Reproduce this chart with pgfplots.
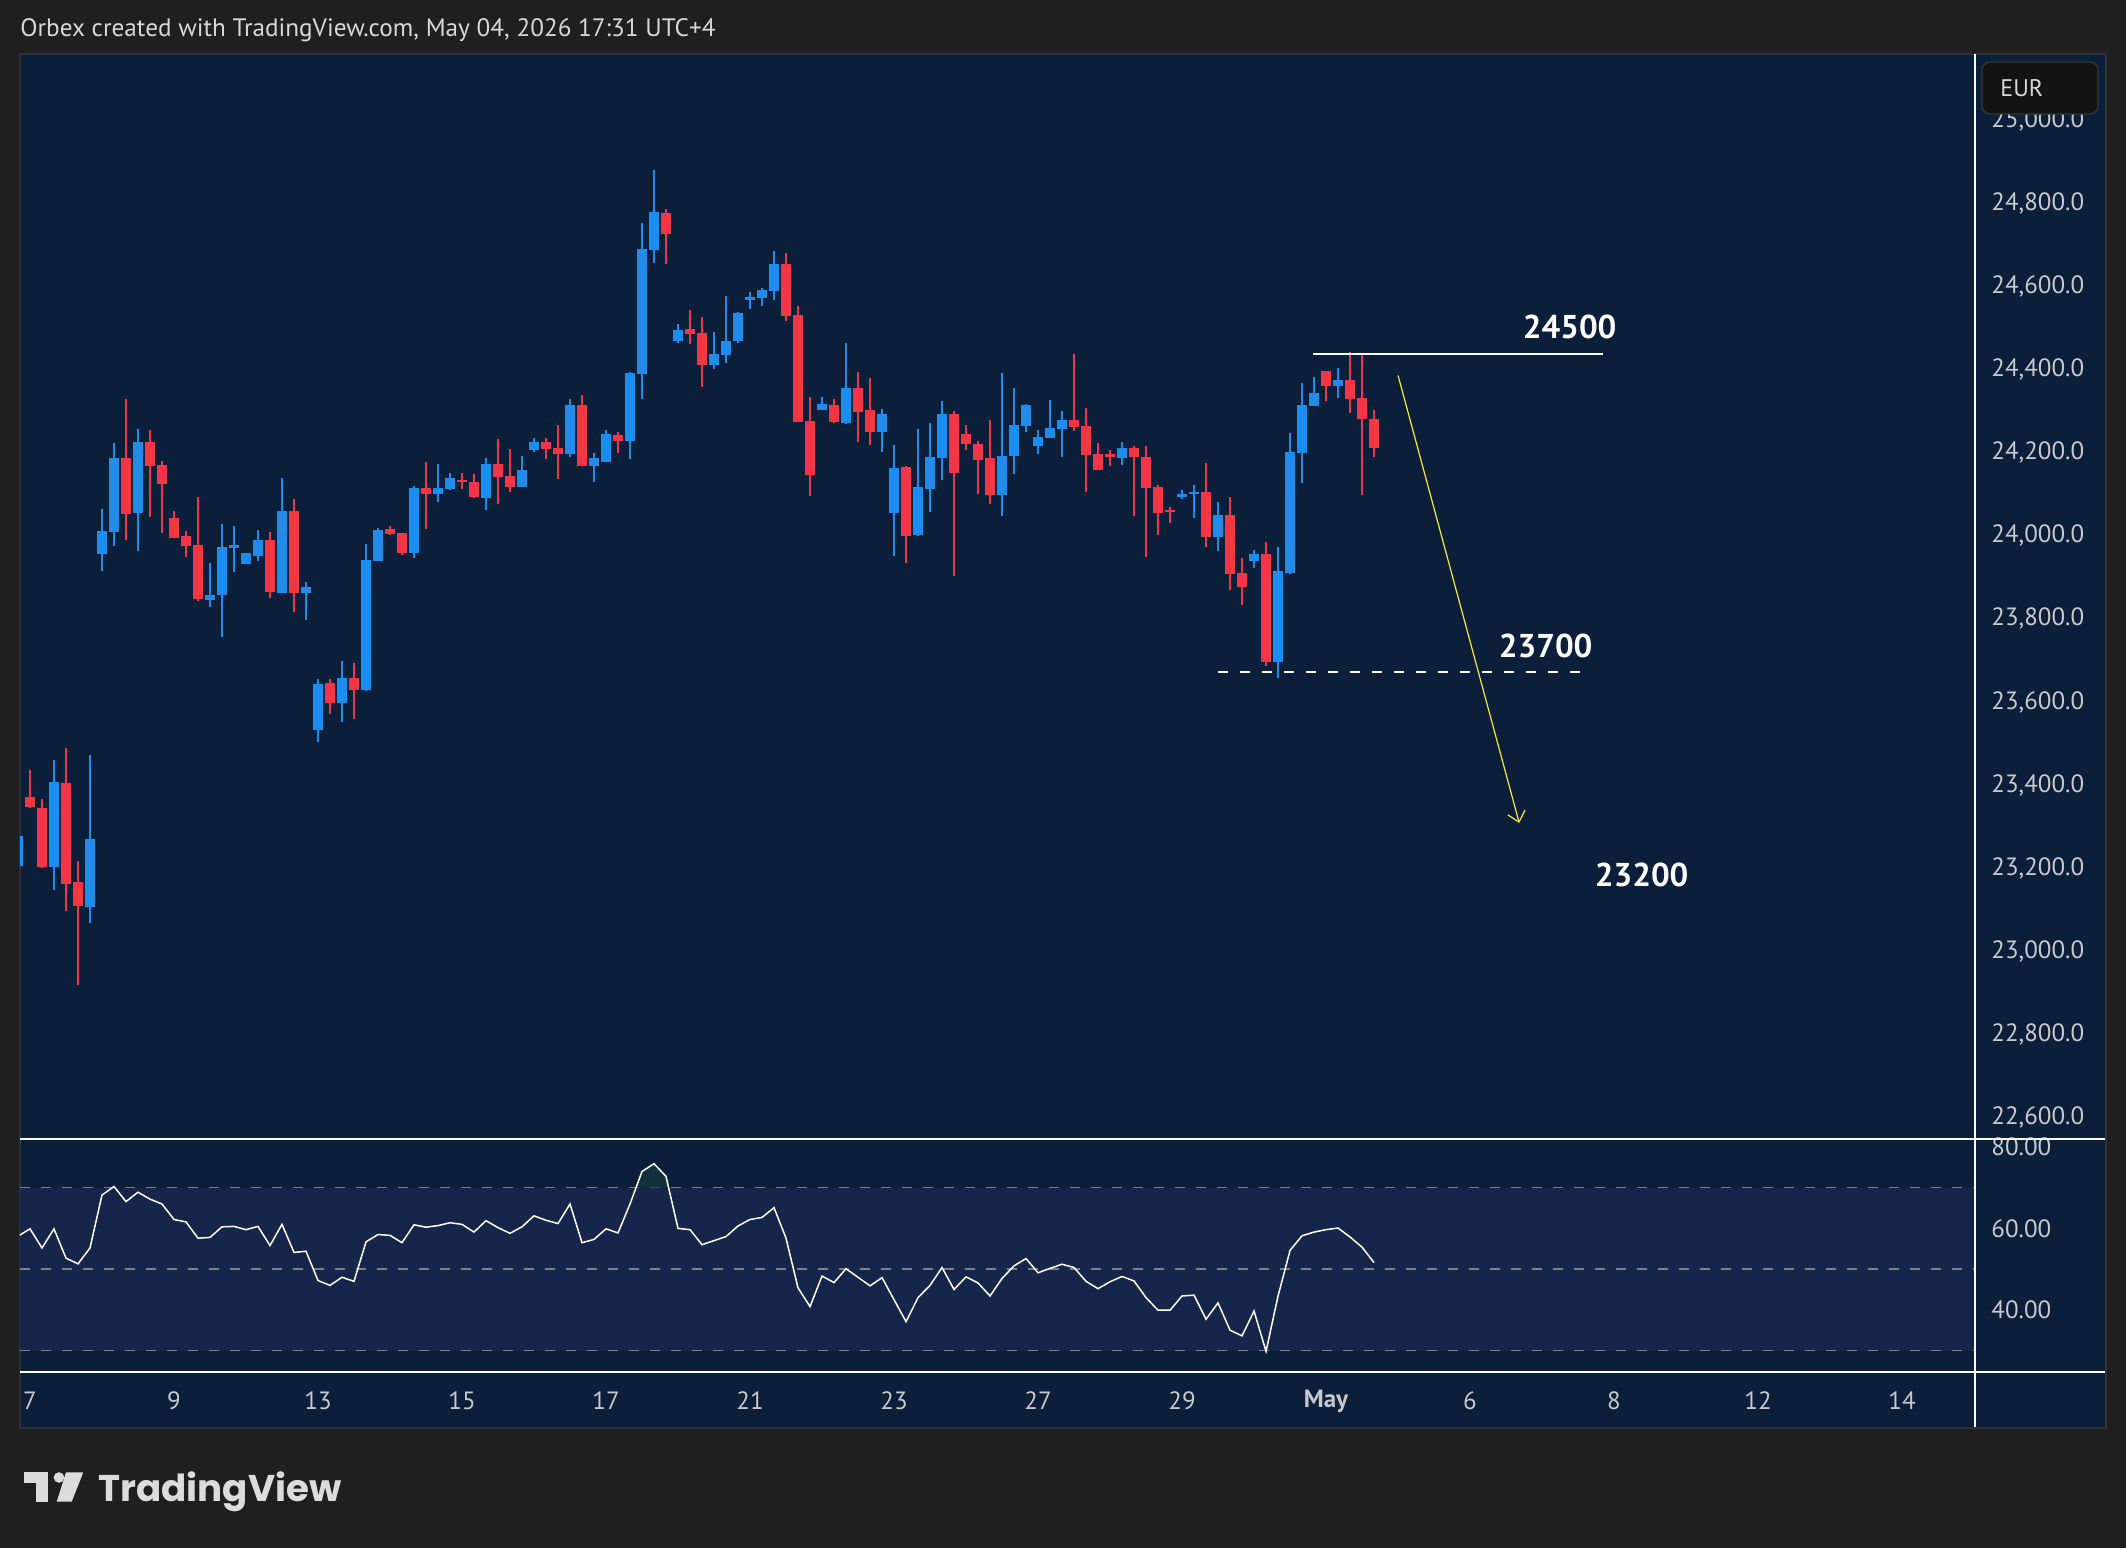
\documentclass[border=0pt]{standalone}
\usepackage{pgfplots}
\pgfplotsset{compat=1.18}
\usepackage{pgfplotstable}
\usepackage{fontspec}
\setmainfont{PT Sans}
\newfontfamily\tvfont{Poppins}
\usetikzlibrary{arrows.meta}

\definecolor{outerbg}{RGB}{31,31,31}
\definecolor{panel}{RGB}{11,30,58}
\definecolor{panelbd}{RGB}{48,50,56}
\definecolor{band}{RGB}{22,38,75}
\definecolor{cup}{RGB}{30,140,236}
\definecolor{cdn}{RGB}{242,54,69}
\definecolor{lbl}{RGB}{200,201,204}
\definecolor{titlec}{RGB}{215,215,215}
\definecolor{dashc}{RGB}{125,128,138}
\definecolor{arrowy}{RGB}{250,232,60}
\definecolor{logoc}{RGB}{220,220,220}
\definecolor{eurbg}{RGB}{19,19,19}
\definecolor{eurbd}{RGB}{54,54,54}
\definecolor{obfill}{RGB}{18,48,60}

% up candles (close > open): index, open, high, low, close
\pgfplotstableread{
i o h l c
-1 23206 23285 23200 23278
2 23202 23460 23147 23407
5 23106 23473 23068 23270
6 23956 24065 23915 24012
7 24010 24224 23975 24188
9 24055 24257 23964 24226
15 23846 23934 23829 23857
16 23857 24029 23756 23973
17 23970 24024 23912 23978
18 23932 23958 23932 23958
19 23951 24014 23939 23990
21 23862 24139 23862 24060
23 23863 23889 23797 23877
24 23533 23655 23504 23643
26 23598 23699 23552 23658
28 23629 23980 23626 23942
29 23939 24019 23939 24014
32 23959 24120 23947 24115
34 24101 24173 24081 24115
35 24113 24151 24110 24139
38 24091 24187 24062 24173
41 24118 24192 24118 24158
42 24207 24235 24202 24226
45 24197 24329 24190 24315
47 24168 24199 24130 24187
48 24178 24255 24178 24245
50 24228 24394 24185 24392
51 24389 24753 24329 24690
52 24688 24880 24657 24779
54 24469 24510 24464 24495
57 24411 24491 24402 24438
58 24435 24577 24416 24469
59 24469 24539 24464 24536
60 24568 24587 24546 24575
61 24572 24596 24553 24592
62 24589 24685 24568 24654
66 24303 24334 24303 24317
68 24272 24464 24269 24356
71 24250 24305 24202 24293
72 24055 24219 23951 24163
74 24002 24257 24000 24118
75 24113 24272 24057 24190
76 24187 24324 24134 24293
81 24098 24392 24048 24192
82 24192 24356 24149 24267
83 24264 24317 24250 24315
84 24216 24255 24197 24238
85 24235 24327 24235 24260
86 24257 24300 24190 24279
91 24187 24226 24170 24211
96 24093 24110 24089 24101
97 24101 24122 24043 24105
99 23997 24081 23964 24050
102 23939 23966 23923 23956
104 23696 23973 23658 23915
105 23911 24247 23908 24202
106 24199 24368 24127 24315
107 24312 24382 24312 24344
109 24361 24404 24332 24375
}\upc

% down candles (close < open)
\pgfplotstableread{
i o h l c
0 23371 23437 23345 23347
1 23345 23366 23200 23203
3 23405 23489 23097 23162
4 23166 23218 22919 23109
8 24187 24329 23990 24052
10 24226 24255 24046 24169
11 24170 24180 24007 24125
12 24043 24060 23994 23994
13 23999 24011 23949 23975
14 23978 24093 23843 23847
20 23990 24009 23851 23865
22 24060 24089 23816 23862
25 23646 23655 23571 23598
27 23658 23694 23559 23629
30 24016 24024 24002 24004
31 24007 24007 23954 23959
33 24115 24178 24016 24101
36 24134 24151 24113 24131
37 24130 24149 24091 24093
39 24173 24233 24077 24142
40 24144 24209 24106 24118
43 24226 24235 24185 24209
44 24211 24267 24137 24197
46 24315 24339 24168 24168
49 24243 24250 24199 24228
53 24777 24787 24654 24726
55 24498 24543 24462 24486
56 24488 24527 24358 24411
63 24654 24681 24517 24529
64 24531 24553 24274 24274
65 24276 24334 24096 24146
67 24315 24329 24272 24274
69 24356 24394 24226 24298
70 24303 24380 24219 24250
73 24166 24168 23935 24000
77 24293 24300 23903 24151
78 24245 24267 24207 24221
79 24221 24228 24101 24182
80 24187 24279 24077 24098
87 24279 24438 24252 24262
88 24264 24308 24106 24195
89 24197 24223 24158 24158
90 24196 24207 24168 24191
92 24211 24216 24048 24190
93 24190 24216 23949 24115
94 24118 24122 24002 24055
95 24062 24069 24031 24057
98 24105 24175 23973 23997
100 24050 24093 23870 23908
101 23911 23947 23834 23877
103 23956 23985 23687 23696
108 24397 24397 24325 24361
110 24375 24442 24296 24329
111 24332 24438 24098 24281
112 24281 24303 24190 24211
}\dnc

% RSI
\pgfplotstableread{
i v
-1 58.1
0 59.9
1 55.2
2 59.9
3 52.7
4 51.3
5 55.2
6 68.2
7 70.3
8 66.6
9 68.9
10 67.2
11 66.0
12 62.2
13 61.6
14 57.6
15 57.8
16 60.4
17 60.5
18 59.7
19 60.5
20 55.8
21 61.0
22 54.1
23 54.4
24 47.2
25 46.0
26 48.0
27 47.0
28 56.7
29 58.5
30 58.3
31 56.5
32 60.9
33 60.3
34 60.7
35 61.4
36 61.0
37 59.1
38 61.9
39 60.2
40 58.8
41 60.4
42 63.1
43 62.0
44 61.2
45 66.0
46 56.5
47 57.3
48 59.9
49 58.9
50 66.0
51 74.0
52 75.9
53 72.8
54 60.0
55 59.7
56 56.0
57 57.0
58 58.0
59 60.6
60 62.2
61 62.7
62 65.1
63 57.6
64 45.4
65 40.8
66 48.3
67 46.7
68 50.1
69 48.0
70 45.9
71 47.9
72 42.5
73 37.1
74 43.0
75 46.0
76 50.4
77 45.0
78 48.1
79 46.6
80 43.4
81 47.7
82 50.8
83 52.6
84 49.1
85 50.2
86 51.2
87 50.4
88 47.0
89 45.2
90 46.9
91 48.2
92 47.1
93 43.0
94 39.9
95 39.9
96 43.4
97 43.6
98 37.7
99 41.7
100 35.0
101 33.6
102 39.7
103 29.8
104 43.4
105 54.6
106 58.2
107 59.1
108 59.7
109 60.1
110 57.9
111 55.4
112 51.6
}\rsi

\pgfplotsset{
  wick/.style={draw=none, mark=none, forget plot,
    error bars/.cd, y dir=both, y explicit, error mark=none,
    error bar style={draw=#1, line width=1pt}},
  body/.style={draw=none, mark=none, forget plot,
    error bars/.cd, y dir=both, y explicit, error mark=none,
    error bar style={draw=#1, line width=5pt}},
}

\begin{document}
\begin{tikzpicture}
\useasboundingbox (0,0) rectangle (1063pt,-774pt);
\begin{scope}[x=0.5pt,y=-0.5pt]
  \fill[outerbg] (0,0) rectangle (2126,1548);
  \fill[panel] (20,54) rectangle (2105,1427);
  \draw[panelbd, line width=1pt] (19.5,53.5) rectangle (2105.5,1427.5);
  \node[anchor=west, inner sep=0pt, text=titlec, font=\fontsize{12.6}{14}\selectfont]
    at (20,30) {Orbex created with TradingView.com, May 04, 2026 17:31 UTC+4};
  % TradingView logo
  \fill[logoc] (24,1472.3) rectangle (48.3,1482.7);
  \fill[logoc] (36,1482.7) rectangle (48.3,1501.7);
  \fill[logoc] (59,1477.5) circle (5.3);
  \fill[logoc] (66,1472.3) -- (83.3,1472.3) -- (71.7,1501.7) -- (56.7,1501.7) -- cycle;
  \node[anchor=base west, inner sep=0pt, text=logoc, font=\tvfont\bfseries\fontsize{18.6}{22}\selectfont]
    at (98,1501.7) {TradingView};
\end{scope}

% ---------- main price pane ----------
\begin{axis}[
  at={(10pt,-569.5pt)}, anchor=south west,
  scale only axis, width=977.5pt, height=542.5pt,
  xmin=-0.833, xmax=162.08, ymin=22548.3, ymax=25159.6,
  axis line style={draw=none}, tick style={draw=none},
  scaled y ticks=false,
  xtick=\empty,
  ytick={22600,22800,23000,23200,23400,23600,23800,24000,24200,24400,24600,24800,25000},
  yticklabels={{22,600.0},{22,800.0},{23,000.0},{23,200.0},{23,400.0},{23,600.0},{23,800.0},{24,000.0},{24,200.0},{24,400.0},{24,600.0},{24,800.0},{25,000.0}},
  yticklabel pos=right,
  yticklabel style={anchor=west, inner sep=0pt, xshift=8pt, text=lbl, font=\fontsize{12.5}{14}\selectfont},
]
\addplot[wick=cup] table[x=i, y expr={(\thisrow{h}+\thisrow{l})/2}, y error expr={(\thisrow{h}-\thisrow{l})/2}] {\upc};
\addplot[body=cup] table[x=i, y expr={(\thisrow{o}+\thisrow{c})/2}, y error expr={abs(\thisrow{c}-\thisrow{o})/2}] {\upc};
\addplot[wick=cdn] table[x=i, y expr={(\thisrow{h}+\thisrow{l})/2}, y error expr={(\thisrow{h}-\thisrow{l})/2}] {\dnc};
\addplot[body=cdn] table[x=i, y expr={(\thisrow{o}+\thisrow{c})/2}, y error expr={abs(\thisrow{c}-\thisrow{o})/2}] {\dnc};

\addplot[white, line width=0.85pt] coordinates {(106.9,24438) (131.1,24438)};
\addplot[white, line width=0.85pt, dash pattern=on 5pt off 6pt] coordinates {(99,23673) (129.2,23673)};
\addplot[arrowy, line width=0.6pt, -{Straight Barb[length=5pt,width=9pt]}] coordinates {(114,24386) (124.1,23309)};

\node[text=white, font=\bfseries\fontsize{16.5}{18}\selectfont] at (axis cs:128.3,24502) {24500};
\node[text=white, font=\bfseries\fontsize{16.5}{18}\selectfont] at (axis cs:126.3,23736) {23700};
\node[text=white, font=\bfseries\fontsize{16.5}{18}\selectfont] at (axis cs:134.3,23185) {23200};
\end{axis}

% ---------- RSI pane ----------
\begin{axis}[
  at={(10pt,-686pt)}, anchor=south west,
  scale only axis, width=977.5pt, height=116.5pt,
  xmin=-0.833, xmax=162.08, ymin=24.72, ymax=81.97,
  axis line style={draw=none}, tick style={draw=none},
  xtick={0,12,24,36,48,60,72,84,96,108,120,132,144,156},
  xticklabels={7,9,13,15,17,21,23,27,29,\textbf{May},6,8,12,14},
  xticklabel style={anchor=center, yshift=-14.5pt, text=lbl, font=\fontsize{12.5}{14}\selectfont},
  ytick={40,60,80}, yticklabels={40.00,60.00,80.00},
  yticklabel pos=right,
  yticklabel style={anchor=west, inner sep=0pt, xshift=8pt, text=lbl, font=\fontsize{12.5}{14}\selectfont},
]
\fill[band] (axis cs:-0.833,30) rectangle (axis cs:162.08,70);
\draw[dashc, line width=0.65pt, dash pattern=on 5pt off 5.5pt] (axis cs:-0.833,70) -- (axis cs:162.08,70);
\draw[dashc, line width=0.65pt, dash pattern=on 5pt off 5.5pt] (axis cs:-0.833,50) -- (axis cs:162.08,50);
\draw[dashc, line width=0.65pt, dash pattern=on 5pt off 5.5pt] (axis cs:-0.833,30) -- (axis cs:162.08,30);
\addplot[fill=obfill, draw=none] coordinates {(50.5,70) (51,74.0) (52,75.9) (53,72.8) (53.22,70)};
\addplot[white, line width=0.75pt] table[x=i, y=v] {\rsi};
\end{axis}

\begin{scope}[x=0.5pt,y=-0.5pt]
  \draw[white, line width=1pt] (20,1139) -- (2105,1139);
  \draw[white, line width=1pt] (20,1372) -- (2105,1372);
  \draw[white, line width=1pt] (1975,54) -- (1975,1427);
  \draw[eurbd, fill=eurbg, line width=0.7pt, rounded corners=4pt] (1982,62) rectangle (2098,114);
  \node[anchor=west, inner sep=0pt, text=titlec, font=\fontsize{12}{14}\selectfont] at (2000,88) {EUR};
\end{scope}
\end{tikzpicture}
\end{document}
